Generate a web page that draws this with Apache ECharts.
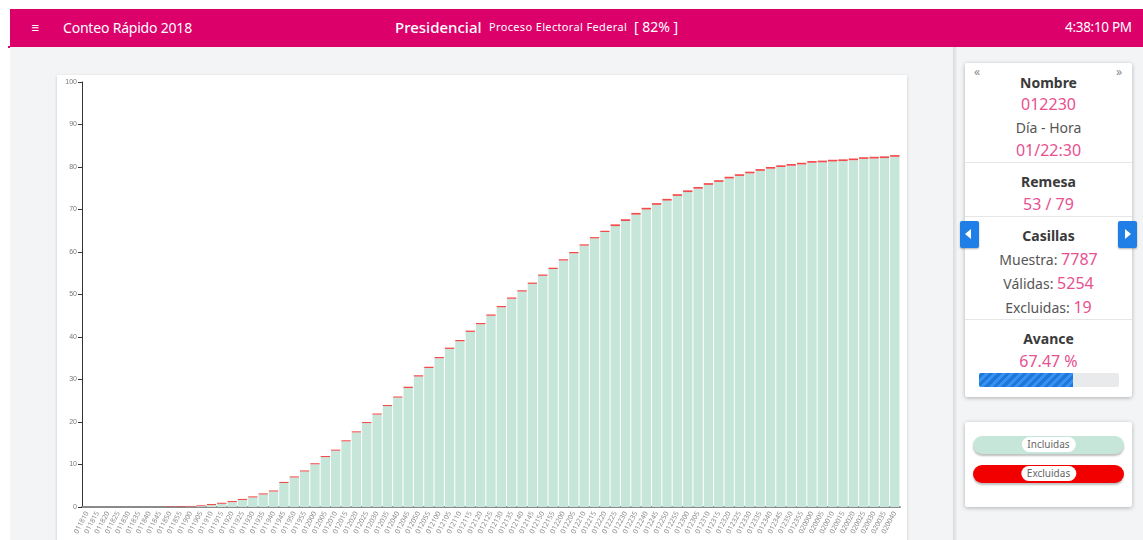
<!DOCTYPE html>
<html>
<head>
<meta charset="utf-8">
<script src="https://cdn.jsdelivr.net/npm/echarts@6/dist/echarts.min.js"></script>
<style>
  html,body{margin:0;padding:0;}
  body{width:1143px;height:540px;overflow:hidden;background:#fff;position:relative;font-family:"Noto Sans","Lato",sans-serif;}
  .abs{position:absolute;}
  #header{left:10px;top:9px;width:1133px;height:38px;background:#dc006b;color:#fff;}
  #leftbg{left:10px;top:47px;width:943px;height:493px;background:#f3f4f6;}
  #divider{left:953px;top:47px;width:4px;height:493px;background:linear-gradient(to right,#d9dadc,#eeeff1);}
  #rightbg{left:957px;top:47px;width:186px;height:493px;background:#f3f4f6;}
  #card{left:57px;top:75px;width:850px;height:470px;background:#fff;box-shadow:0 1px 3px rgba(0,0,0,.18);}
  #chart{left:57px;top:75px;width:850px;height:465px;}
  .panel{background:#fff;box-shadow:0 1px 4px rgba(0,0,0,.28);border-radius:2px;}
  .c{position:absolute;left:0;width:167px;text-align:center;white-space:nowrap;}
  .ttl{font-weight:700;color:#3a3a3a;font-size:14px;}
  .pk{color:#e8508f;font-size:16px;}
  .gr{color:#555;font-size:14px;}
  .hr{position:absolute;left:0;width:167px;height:1px;background:#e6e6e6;}
  .btn{position:absolute;width:19px;height:27px;background:#1f7fe6;border-radius:2px;box-shadow:0 1px 2px rgba(0,0,0,.3);}
  .pill{position:absolute;left:8px;width:151px;height:18px;border-radius:9px;box-shadow:0 2px 2px rgba(0,0,0,.25);}
  .pill span{position:absolute;left:50%;top:1px;transform:translateX(-50%);background:#fff;border-radius:8px;padding:0 6px;font-size:10px;line-height:15px;color:#666;}
</style>
</head>
<body>
<div id="header" class="abs">
  <div class="abs" style="left:21px;top:8px;font-size:15px;">&#8801;</div>
  <div class="abs" style="left:53px;top:9px;font-size:14px;letter-spacing:-0.2px;">Conteo Rápido 2018</div>
  <div class="abs" style="left:385px;top:8px;font-size:15px;font-weight:500;">Presidencial</div>
  <div class="abs" style="left:479px;top:10px;font-size:11px;letter-spacing:0.35px;">Proceso Electoral Federal</div>
  <div class="abs" style="left:624px;top:8px;font-size:14px;">[ 82% ]</div>
  <div class="abs" style="left:1055px;top:9px;font-size:13.5px;letter-spacing:-0.3px;">4:38:10 PM</div>
</div>
<div class="abs" style="left:8px;top:46px;width:3px;height:2px;background:#dc006b;"></div>
<div id="leftbg" class="abs"></div>
<div id="divider" class="abs"></div>
<div id="rightbg" class="abs"></div>
<div id="card" class="abs"></div>
<div id="chart" class="abs"></div>

<div class="abs panel" style="left:965px;top:63px;width:167px;height:334px;">
  <div class="abs" style="left:9px;top:0px;color:#888;font-size:12px;">&#171;</div>
  <div class="abs" style="left:151px;top:0px;color:#888;font-size:12px;">&#187;</div>
  <div class="c ttl" style="top:10px;">Nombre</div>
  <div class="c pk" style="top:30px;">012230</div>
  <div class="c gr" style="top:55px;">Día - Hora</div>
  <div class="c pk" style="top:76px;">01/22:30</div>
  <div class="hr" style="top:99px;"></div>
  <div class="c ttl" style="top:109px;">Remesa</div>
  <div class="c pk" style="top:130px;">53 / 79</div>
  <div class="hr" style="top:153px;"></div>
  <div class="c ttl" style="top:163px;">Casillas</div>
  <div class="c gr" style="top:185px;font-size:14px;">Muestra: <span class="pk">7787</span></div>
  <div class="c gr" style="top:209px;font-size:14px;">Válidas: <span class="pk">5254</span></div>
  <div class="c gr" style="top:233px;font-size:14px;">Excluidas: <span class="pk">19</span></div>
  <div class="hr" style="top:256px;"></div>
  <div class="c ttl" style="top:266px;">Avance</div>
  <div class="c pk" style="top:287px;">67.47 %</div>
  <div class="abs" style="left:14px;top:310px;width:140px;height:14px;background:#e9eaeb;border-radius:2px;overflow:hidden;">
    <div style="width:67.47%;height:100%;background:repeating-linear-gradient(-45deg,#1d78de 0 3px,#3b92ee 3px 6px);"></div>
  </div>
</div>
<div class="btn" style="left:960px;top:221px;"><div style="position:absolute;left:5px;top:8px;width:0;height:0;border-top:5px solid transparent;border-bottom:5px solid transparent;border-right:6px solid #fff;"></div></div>
<div class="btn" style="left:1118px;top:221px;"><div style="position:absolute;left:7px;top:8px;width:0;height:0;border-top:5px solid transparent;border-bottom:5px solid transparent;border-left:6px solid #fff;"></div></div>

<div class="abs panel" style="left:965px;top:422px;width:167px;height:85px;">
  <div class="pill" style="top:14px;background:#c6e6da;"><span>Incluidas</span></div>
  <div class="pill" style="top:43px;background:#f20000;"><span>Excluidas</span></div>
</div>

<script>
const categories = [
 "011810","011815","011820","011825","011830","011835","011840","011845","011850","011855",
 "011900","011905","011910","011915","011920","011925","011930","011935","011940","011945","011950","011955",
 "012000","012005","012010","012015","012020","012025","012030","012035","012040","012045","012050","012055",
 "012100","012105","012110","012115","012120","012125","012130","012135","012140","012145","012150","012155",
 "012200","012205","012210","012215","012220","012225","012230","012235","012240","012245","012250","012255",
 "012300","012305","012310","012315","012320","012325","012330","012335","012340","012345","012350","012355",
 "020000","020005","020010","020015","020020","020025","020030","020035","020040"
];
const incluidas = [
 0,0,0,0,0,0,0,0,0,0,
 0.1,0.2,0.45,0.75,1.15,1.65,2.25,2.95,3.65,5.65,6.95,8.35,
 10.05,11.75,13.25,15.45,17.55,19.75,21.75,23.75,25.75,28.0,30.7,32.7,
 35.0,37.2,39.0,41.2,43.0,45.0,47.0,49.0,50.7,52.5,54.4,56.0,
 58.0,59.7,61.5,63.2,64.7,66.1,67.3,68.8,70.0,71.1,72.1,73.2,
 74.1,74.9,75.8,76.5,77.3,77.9,78.5,79.1,79.6,80.0,80.3,80.6,
 81.0,81.1,81.3,81.4,81.6,81.9,82.0,82.1,82.4
];
const excluidas = [
 0,0,0,0,0,0,0,0,0.1,0.15,
 0.15,0.2,0.25,0.25,0.25,0.25,0.25,0.25,0.25,0.25,0.25,0.25,
 0.25,0.25,0.25,0.25,0.25,0.25,0.25,0.25,0.25,0.3,0.3,0.3,
 0.3,0.3,0.3,0.3,0.3,0.3,0.3,0.3,0.3,0.3,0.3,0.3,
 0.3,0.3,0.3,0.3,0.3,0.4,0.4,0.4,0.4,0.4,0.4,0.4,
 0.4,0.4,0.4,0.4,0.4,0.4,0.4,0.4,0.4,0.4,0.4,0.4,
 0.4,0.4,0.4,0.4,0.4,0.4,0.4,0.4,0.4
];
const yTicks = [0,10,20,30,40,50,60,70,80,90,100];

const chart = echarts.init(document.getElementById('chart'), null, {renderer:'canvas'});
chart.setOption({
  animation:false,
  grid:{left:25,right:7,top:7,bottom:33,containLabel:false},
  xAxis:{
    type:'category', data:categories,
    axisLine:{show:true,lineStyle:{color:'#8a8a8a',width:2}},
    axisTick:{show:false},
    axisLabel:{interval:0,rotate:62,fontSize:7,color:'#8c8c8c',margin:5,fontFamily:'Noto Sans'}
  },
  yAxis:{
    type:'value', min:0, max:100, interval:10,
    axisLine:{show:true,lineStyle:{color:'#333',width:1}},
    axisTick:{show:true,length:4,lineStyle:{color:'#333'}},
    axisLabel:{fontSize:7,color:'#777',margin:5,formatter:v=>yTicks.includes(v)?String(v):''},
    splitLine:{show:false}
  },
  series:[
    {name:'Incluidas',type:'bar',stack:'t',data:incluidas,barCategoryGap:'10%',
     itemStyle:{color:'#c6e6da'}},
    {name:'Excluidas',type:'bar',stack:'t',data:excluidas,barCategoryGap:'10%',
     itemStyle:{color:'#f24b4b'}}
  ]
});
</script>
</body>
</html>
